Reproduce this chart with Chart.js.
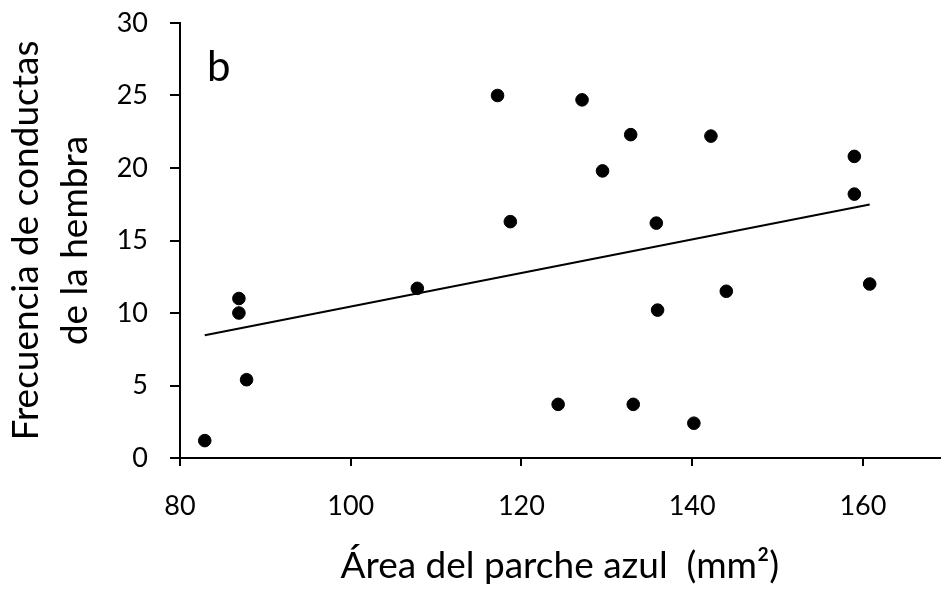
<!DOCTYPE html>
<html>
<head>
<meta charset="utf-8">
<script src="https://cdn.jsdelivr.net/npm/chart.js@4"></script>
<style>
  html, body { margin: 0; padding: 0; background: #fff; }
  #wrap { width: 947px; height: 592px; position: relative; }
</style>
</head>
<body>
<div id="wrap"><canvas id="grafico"></canvas></div>
<script>
// Datos
const areaParche = [82.9, 86.9, 86.9, 87.8, 107.8, 117.2, 118.7, 124.3, 127.1, 129.5,
                    132.8, 133.1, 135.8, 135.95, 140.2, 142.2, 144.0, 159.0, 159.0, 160.8];
const frecuencia = [1.2, 11.0, 10.0, 5.4, 11.7, 25.0, 16.3, 3.7, 24.7, 19.8,
                    22.3, 3.7, 16.2, 10.2, 2.4, 22.2, 11.5, 20.8, 18.2, 12.0];
// recta de tendencia (extremos)
const tendenciaX = [82.9, 160.8];
const tendenciaY = [8.47, 17.49];

const xTicks = [80, 100, 120, 140, 160];
const yTicks = [0, 5, 10, 15, 20, 25, 30];

const fuente = "Lato, 'Open Sans', sans-serif";

// Letra del panel
const letraPanel = {
    id: "letraPanel",
    afterDraw(chart) {
        const { ctx, chartArea } = chart;
        ctx.save();
        ctx.fillStyle = "#000";
        ctx.font = "42px " + fuente;
        ctx.textAlign = "left";
        ctx.textBaseline = "alphabetic";
        ctx.fillText("b", chartArea.left + 27, chartArea.top + 58);
        ctx.restore();
    }
};

const ctx = document.getElementById("grafico").getContext("2d");
new Chart(ctx, {
    type: "scatter",
    data: {
        datasets: [
            {
                label: "Hembras",
                data: areaParche.map((x, i) => ({ x: x, y: frecuencia[i] })),
                backgroundColor: "#000",
                borderColor: "#000",
                pointRadius: 6.3,
                pointHoverRadius: 6.3
            },
            {
                label: "Tendencia",
                type: "line",
                data: tendenciaX.map((x, i) => ({ x: x, y: tendenciaY[i] })),
                borderColor: "#000",
                borderWidth: 2,
                pointRadius: 0,
                fill: false
            }
        ]
    },
    options: {
        responsive: true,
        maintainAspectRatio: false,
        animation: false,
        layout: { padding: { top: 23, right: 0, left: 0, bottom: 0 } },
        plugins: {
            legend: { display: false },
            tooltip: { enabled: false }
        },
        scales: {
            x: {
                type: "linear",
                min: 80,
                max: 169,
                afterBuildTicks: axis => { axis.ticks = xTicks.map(v => ({ value: v })); },
                afterFit: axis => {
                    axis.height = 134;
                    axis.paddingLeft = 0;
                    axis.paddingRight = 0;
                },
                border: { display: true, color: "#000", width: 2 },
                grid: { drawOnChartArea: false, drawTicks: true, tickLength: 8, color: "#000", lineWidth: 2 },
                ticks: { color: "#000", font: { family: fuente, size: 27 }, padding: 24, maxRotation: 0 },
                title: {
                    display: true,
                    text: "Área del parche azul  (mm²)",
                    color: "#000",
                    font: { family: fuente, size: 37 },
                    padding: { top: 6 }
                }
            },
            y: {
                min: 0,
                max: 30,
                afterBuildTicks: axis => { axis.ticks = yTicks.map(v => ({ value: v })); },
                afterFit: axis => {
                    axis.width = 180;
                    axis.paddingTop = 0;
                    axis.paddingBottom = 0;
                },
                border: { display: true, color: "#000", width: 2 },
                grid: { drawOnChartArea: false, drawTicks: true, tickLength: 10, color: "#000", lineWidth: 2 },
                ticks: { color: "#000", font: { family: fuente, size: 27 }, padding: 22 },
                title: {
                    display: true,
                    text: ["Frecuencia de conductas", "de la hembra"],
                    color: "#000",
                    font: { family: fuente, size: 37, lineHeight: 1.32 },
                    padding: { top: 2, bottom: 0 }
                }
            }
        }
    },
    plugins: [letraPanel]
});
</script>
</body>
</html>
